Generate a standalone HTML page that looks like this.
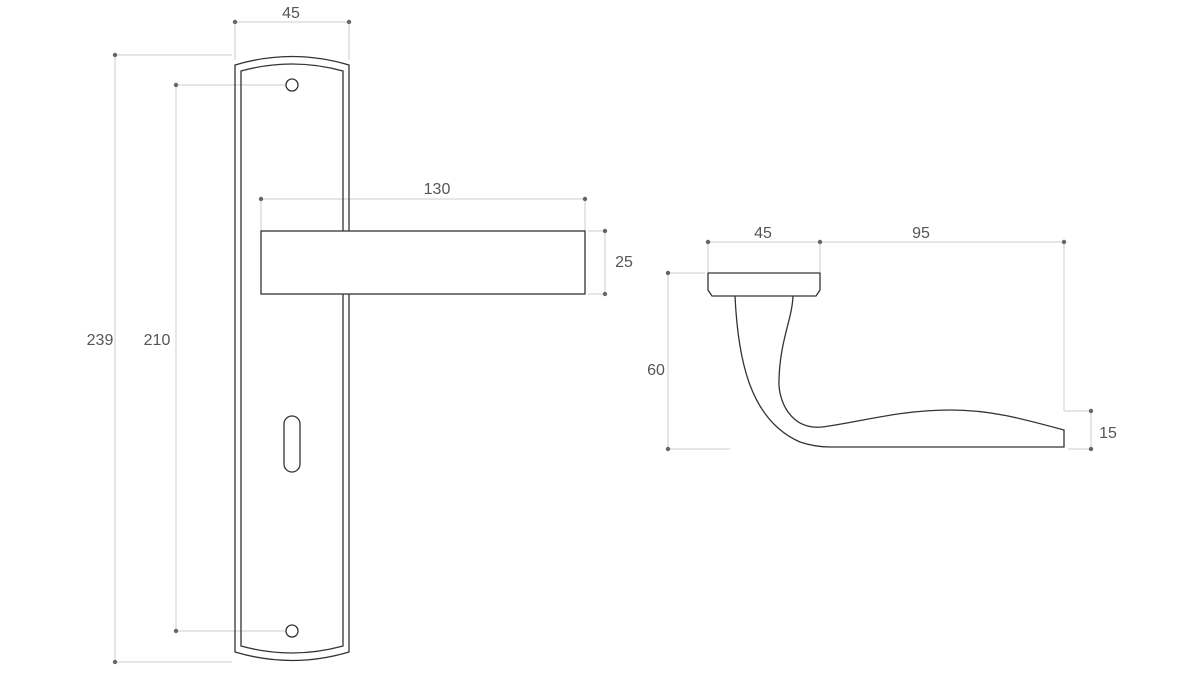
<!DOCTYPE html>
<html><head><style>body{margin:0;background:#fff}svg text{font-family:"Liberation Sans",sans-serif;font-size:16px;fill:#555}</style></head><body>
<svg width="1200" height="675" viewBox="0 0 1200 675">
<g stroke="#ccc" stroke-width="1" fill="none">
<line x1="235" y1="22" x2="349" y2="22"/><line x1="235" y1="22" x2="235" y2="60"/><line x1="349" y1="22" x2="349" y2="60"/>
<line x1="115" y1="55" x2="232" y2="55"/><line x1="115" y1="662" x2="232" y2="662"/><line x1="115" y1="55" x2="115" y2="662"/>
<line x1="176" y1="85" x2="286" y2="85"/><line x1="176" y1="631" x2="286" y2="631"/><line x1="176" y1="85" x2="176" y2="631"/>
<line x1="261" y1="199" x2="585" y2="199"/><line x1="261" y1="199" x2="261" y2="231"/><line x1="585" y1="199" x2="585" y2="231"/>
<line x1="588" y1="231" x2="605" y2="231"/><line x1="588" y1="294" x2="605" y2="294"/><line x1="605" y1="231" x2="605" y2="294"/>
<line x1="708" y1="242" x2="1064" y2="242"/><line x1="708" y1="242" x2="708" y2="272"/><line x1="820" y1="242" x2="820" y2="272"/><line x1="1064" y1="242" x2="1064" y2="411"/>
<line x1="668" y1="273" x2="705" y2="273"/><line x1="668" y1="449" x2="730" y2="449"/><line x1="668" y1="273" x2="668" y2="449"/>
<line x1="1064" y1="411" x2="1091" y2="411"/><line x1="1068" y1="449" x2="1091" y2="449"/><line x1="1091" y1="411" x2="1091" y2="449"/>
</g>
<g fill="#666">
<circle cx="235" cy="22" r="2.2"/><circle cx="349" cy="22" r="2.2"/><circle cx="115" cy="55" r="2.2"/><circle cx="115" cy="662" r="2.2"/>
<circle cx="176" cy="85" r="2.2"/><circle cx="176" cy="631" r="2.2"/><circle cx="261" cy="199" r="2.2"/><circle cx="585" cy="199" r="2.2"/>
<circle cx="605" cy="231" r="2.2"/><circle cx="605" cy="294" r="2.2"/><circle cx="708" cy="242" r="2.2"/><circle cx="820" cy="242" r="2.2"/><circle cx="1064" cy="242" r="2.2"/>
<circle cx="668" cy="273" r="2.2"/><circle cx="668" cy="449" r="2.2"/><circle cx="1091" cy="411" r="2.2"/><circle cx="1091" cy="449" r="2.2"/>
</g>
<g stroke="#333" stroke-width="1.3" fill="none">
<path d="M235 65 Q292 48 349 65 V652 Q292 669 235 652 Z"/>
<path d="M241 71 Q292 57 343 71 V646 Q292 660 241 646 Z"/>
<circle cx="292" cy="85" r="6"/><circle cx="292" cy="631" r="6"/>
<rect x="284" y="416" width="16" height="56" rx="8"/>
<rect x="261" y="231" width="324" height="63" fill="#fff"/>
<path d="M708 273 H820 V290 L816 296 H712 L708 290 Z"/>
<path d="M735 296 C738 360 750 420 800 442 Q815 447 830 447 H1064 V430 C1020 418 990 410 950 410 C900 410 860 422 822 427 C790 430 778 400 779 380 C780 340 792 320 793 296"/>
</g>
<text x="291" y="18" text-anchor="middle">45</text>
<text x="100" y="345" text-anchor="middle">239</text>
<text x="157" y="345" text-anchor="middle">210</text>
<text x="437" y="194" text-anchor="middle">130</text>
<text x="624" y="267" text-anchor="middle">25</text>
<text x="763" y="238" text-anchor="middle">45</text>
<text x="921" y="238" text-anchor="middle">95</text>
<text x="656" y="375" text-anchor="middle">60</text>
<text x="1108" y="438" text-anchor="middle">15</text>
</svg>
</body></html>
